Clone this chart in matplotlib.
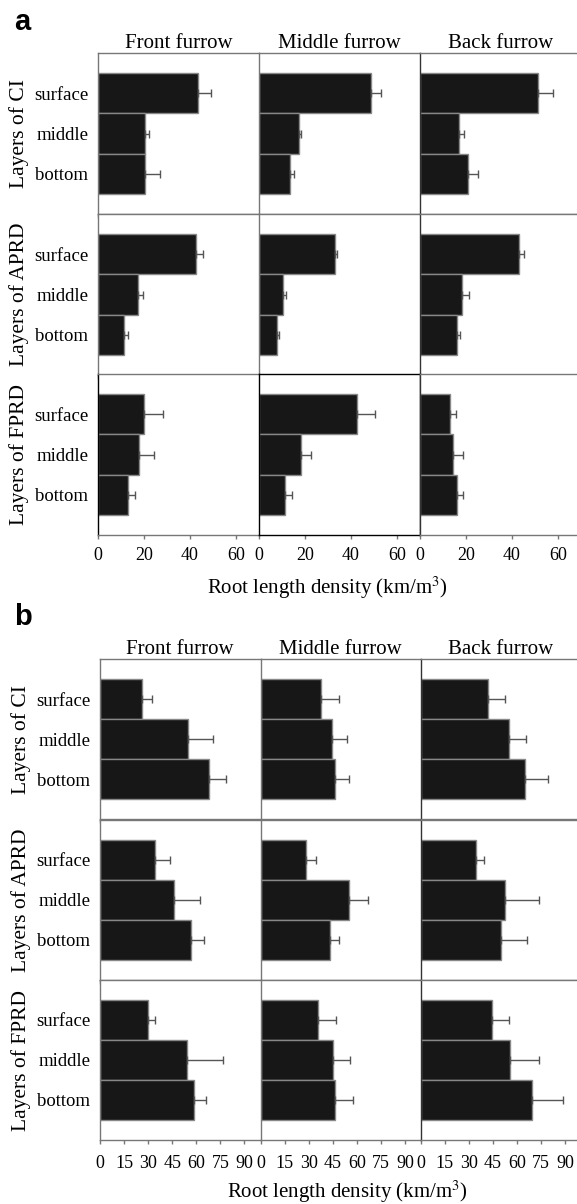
import matplotlib.pyplot as plt
import numpy as np

plt.rcParams['font.family'] = ['Liberation Serif', 'DejaVu Serif']
plt.rcParams['mathtext.fontset'] = 'stix'

layers = ['surface', 'middle', 'bottom']
furrows = ['Front furrow', 'Middle furrow', 'Back furrow']
treatments = ['CI', 'APRD', 'FPRD']

# panel a: rows = furrow (front, middle, back), cols = layer
a_ci_mean = [[43.5, 20.4, 20.4], [48.7, 17.3, 13.6], [51.4, 17.1, 21.0]]
a_ci_err = [[5.6, 1.9, 6.6], [4.2, 1.0, 1.6], [6.6, 2.2, 4.1]]
a_aprd_mean = [[42.6, 17.5, 11.3], [33.2, 10.6, 8.0], [43.2, 18.4, 16.2]]
a_aprd_err = [[3.0, 1.9, 1.9], [0.9, 1.1, 0.8], [2.1, 3.0, 1.3]]
a_fprd_mean = [[19.9, 17.7, 12.9], [42.7, 18.4, 11.3], [13.2, 14.3, 16.2]]
a_fprd_err = [[8.2, 6.5, 3.3], [7.6, 4.3, 3.2], [2.5, 4.3, 2.6]]

# panel b
b_ci_mean = [[26.2, 54.7, 67.8], [37.6, 44.4, 46.5], [41.9, 55.0, 65.2]]
b_ci_err = [[6.2, 15.5, 10.7], [11.4, 9.3, 8.8], [11.0, 10.9, 14.5]]
b_aprd_mean = [[34.5, 45.9, 56.6], [28.3, 55.1, 43.2], [34.5, 52.5, 50.0]]
b_aprd_err = [[8.9, 16.1, 8.1], [6.2, 11.8, 5.6], [4.9, 21.3, 16.3]]
b_fprd_mean = [[30.0, 54.1, 58.5], [36.1, 45.0, 46.5], [44.4, 55.5, 69.6]]
b_fprd_err = [[4.5, 22.6, 7.6], [11.0, 10.8, 10.9], [10.8, 18.6, 19.0]]

a_ticks = [0, 20, 40, 60]
b_ticks = [0, 15, 30, 45, 60, 75, 90]

W, H = 577, 1204
fig = plt.figure(figsize=(W / 100, H / 100), dpi=100)


def px_axes(x0, y0, w, h):
    return fig.add_axes([x0 / W, 1 - (y0 + h) / H, w / W, h / H])


def draw_panel(lefts, width, tops, height, means, errs, xmax, ticks, label_pad,
               boxed=None):
    for r in range(3):
        for c in range(3):
            ax = px_axes(lefts[c], tops[r], width, height)
            y = np.arange(3)
            ax.barh(y, means[r][c], height=1.0, color='#171717',
                    edgecolor='#888888', linewidth=1.0)
            ax.errorbar(means[r][c], y, xerr=[[0, 0, 0], errs[r][c]],
                        fmt='none', ecolor='#555555', elinewidth=1.0,
                        capsize=3, capthick=1.0)
            ax.set_xlim(0, xmax)
            ax.set_ylim(3, -1)
            ax.set_xticks(ticks)
            ax.set_yticks(y)
            ax.set_facecolor('white')
            for s in ax.spines.values():
                s.set_color('#777777')
                s.set_linewidth(1.0)
            ax.spines['right'].set_visible(False)
            ax.tick_params(axis='x', direction='out', length=3, width=1,
                           color='#777777', labelsize=13, pad=label_pad)
            ax.tick_params(axis='y', length=0, pad=7, labelsize=13.5)
            if r < 2:
                ax.set_xticklabels([])
            if c > 0:
                ax.set_yticklabels([])
            else:
                ax.set_yticklabels(layers)
            if r == 0:
                ax.set_title(furrows[c], fontsize=15, pad=3)
            if c == 2:
                ax.spines['left'].set_color('#333333')
            if boxed is not None and (r, c) == boxed:
                for s in ax.spines.values():
                    s.set_visible(True)
                    s.set_color('black')
                    s.set_zorder(3)
            if boxed is not None and r == 2 and c == 0:
                ax.spines['left'].set_color('black')
    return


a_means = [a_ci_mean, a_aprd_mean, a_fprd_mean]
a_errs = [a_ci_err, a_aprd_err, a_fprd_err]
b_means = [b_ci_mean, b_aprd_mean, b_fprd_mean]
b_errs = [b_ci_err, b_aprd_err, b_fprd_err]

draw_panel([98, 259, 420], 161, [53, 214, 374], 161, a_means, a_errs,
           70, a_ticks, 6, boxed=(2, 1))
draw_panel([100, 260.5, 420.5], 160.5, [659, 820, 980], 160, b_means, b_errs,
           100, b_ticks, 8)

for i, t in enumerate(treatments):
    fig.text(19 / W, 1 - (133.5 + 160.7 * i) / H, 'Layers of ' + t,
             rotation=90, ha='center', va='center', fontsize=15.5)
    fig.text(21 / W, 1 - (739.5 + 160.3 * i) / H, 'Layers of ' + t,
             rotation=90, ha='center', va='center', fontsize=15.5)

fig.text(327 / W, 1 - 588 / H, r'Root length density (km/m$^3$)',
         ha='center', va='center', fontsize=15)
fig.text(347 / W, 1 - 1192 / H, r'Root length density (km/m$^3$)',
         ha='center', va='center', fontsize=15)

fig.text(14 / W, 1 - 30 / H, 'a', fontsize=21, fontweight='bold',
         family='Liberation Sans', va='baseline')
fig.text(14 / W, 1 - 625 / H, 'b', fontsize=21, fontweight='bold',
         family='Liberation Sans', va='baseline')

fig.savefig('out.png', dpi=100)
